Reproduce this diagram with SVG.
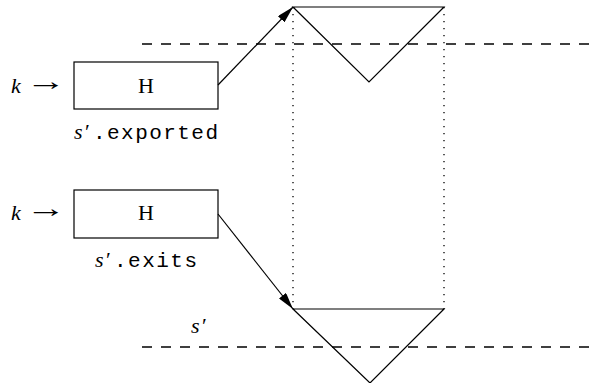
<svg xmlns="http://www.w3.org/2000/svg" width="589" height="383" viewBox="0 0 589 383">
<style>
.ln{stroke:#000;stroke-width:1.2;fill:none}
.dash{stroke:#000;stroke-width:1.3;stroke-dasharray:10,9;fill:none}
.dot{stroke:#000;stroke-width:1.3;stroke-dasharray:1.3,5.7;fill:none}
.box{fill:#fff;stroke:#000;stroke-width:1.2}
.serif{font-family:"Liberation Serif","DejaVu Serif",serif;font-size:22px;fill:#000}
.it{font-style:italic}
.arr{font-family:"Liberation Sans","DejaVu Sans",sans-serif;font-size:24px;fill:#000}
.mono{font-family:"Liberation Mono","DejaVu Sans Mono",monospace;font-size:21px;fill:#000}
</style>
<defs>
<marker id="ah" viewBox="0 0 17 9" refX="17" refY="4.5" markerWidth="17" markerHeight="9" markerUnits="userSpaceOnUse" orient="auto">
<path d="M0,0 L17,4.5 L0,9 Z" fill="#000"/>
</marker>
</defs>
<g id="guides">
<line class="dash" x1="142" y1="44" x2="589" y2="44"/>
<line class="dash" x1="142" y1="347" x2="589" y2="347"/>
<line class="dot" x1="293" y1="7" x2="293" y2="309"/>
<line class="dot" x1="444" y1="7" x2="444" y2="309"/>
</g>
<g id="tri-top">
<path class="ln" d="M293,7 L444,7 L369,82 Z"/>
</g>
<g id="tri-bottom">
<path class="ln" d="M293,309 L444,309 L370,383 Z"/>
</g>
<g id="node-exported">
<text class="serif it" x="11" y="93">k</text>
<text class="arr" transform="translate(25.5,90) scale(1.7,1.1)">→</text>
<rect class="box" x="74" y="62" width="144" height="47"/>
<text class="serif" x="146" y="93" text-anchor="middle">H</text>
<text class="serif it" x="74" y="139">s</text>
<text class="serif" x="85" y="139">′</text>
<text class="mono" x="93" y="139" textLength="125" lengthAdjust="spacing">.exported</text>
</g>
<g id="node-exits">
<text class="serif it" x="11" y="220">k</text>
<text class="arr" transform="translate(25.5,217) scale(1.7,1.1)">→</text>
<rect class="box" x="74" y="190" width="144" height="48"/>
<text class="serif" x="146" y="220" text-anchor="middle">H</text>
<text class="serif it" x="95" y="267">s</text>
<text class="serif" x="106" y="267">′</text>
<text class="mono" x="114" y="267" textLength="83" lengthAdjust="spacing">.exits</text>
</g>
<g id="label-s">
<text class="serif it" x="191" y="333">s</text>
<text class="serif" x="202" y="333">′</text>
</g>
<g id="connectors">
<line class="ln" x1="218" y1="85" x2="293" y2="7" marker-end="url(#ah)"/>
<line class="ln" x1="218" y1="214" x2="293" y2="309" marker-end="url(#ah)"/>
</g>
</svg>
